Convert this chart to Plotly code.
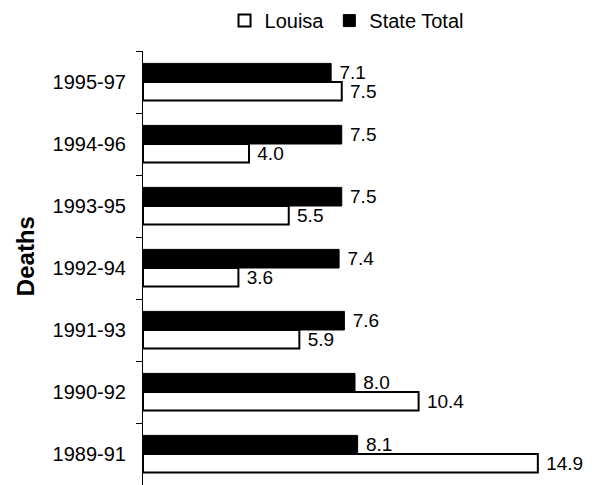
import plotly.graph_objects as go

categories = ['1989-91', '1990-92', '1991-93', '1992-94', '1993-95', '1994-96', '1995-97']
louisa = [14.9, 10.4, 5.9, 3.6, 5.5, 4.0, 7.5]
state_total = [8.1, 8.0, 7.6, 7.4, 7.5, 7.5, 7.1]
axis_title = 'Deaths'

fig = go.Figure()
fig.add_trace(go.Bar(
    y=categories, x=louisa, orientation='h', name='Louisa',
    marker=dict(color='white', line=dict(color='black', width=2)),
    texttemplate=' %{x:.1f}', textposition='outside', constraintext='none',
    textfont=dict(size=19, color='black'), cliponaxis=False,
))
fig.add_trace(go.Bar(
    y=categories, x=state_total, orientation='h', name='State Total',
    marker=dict(color='black', line=dict(color='black', width=1)),
    texttemplate=' %{x:.1f}', textposition='outside', constraintext='none',
    textfont=dict(size=19, color='black'), cliponaxis=False,
))

fig.add_annotation(
    text='<b>' + axis_title + '</b>', textangle=-90,
    xref='paper', yref='paper', x=-0.278, y=0.5276,
    xanchor='center', yanchor='middle', showarrow=False,
    font=dict(size=24, color='black'),
)

fig.update_layout(
    width=584, height=477,
    margin=dict(l=135, r=25, t=43, b=0, autoexpand=False),
    paper_bgcolor='white', plot_bgcolor='white',
    font=dict(family='Liberation Sans, Arial, sans-serif', color='black'),
    barmode='group', bargap=0.4, bargroupgap=0,
    showlegend=True,
    legend=dict(orientation='h', x=0.48, xanchor='center', y=1.115, yanchor='top',
                yref='paper', font=dict(size=20), itemwidth=30,
                bgcolor='rgba(0,0,0,0)',
                traceorder='normal', tracegroupgap=0),
    xaxis=dict(range=[0, 16], visible=False),
    yaxis=dict(
        categoryorder='array', categoryarray=categories,
        showline=True, linecolor='black', linewidth=1, automargin=False,
        ticks='outside', ticklen=6, tickcolor='black', tickson='boundaries',
        tickfont=dict(size=20), ticklabelstandoff=12,
        showgrid=False,
    ),
)

fig.write_html('out.html')
